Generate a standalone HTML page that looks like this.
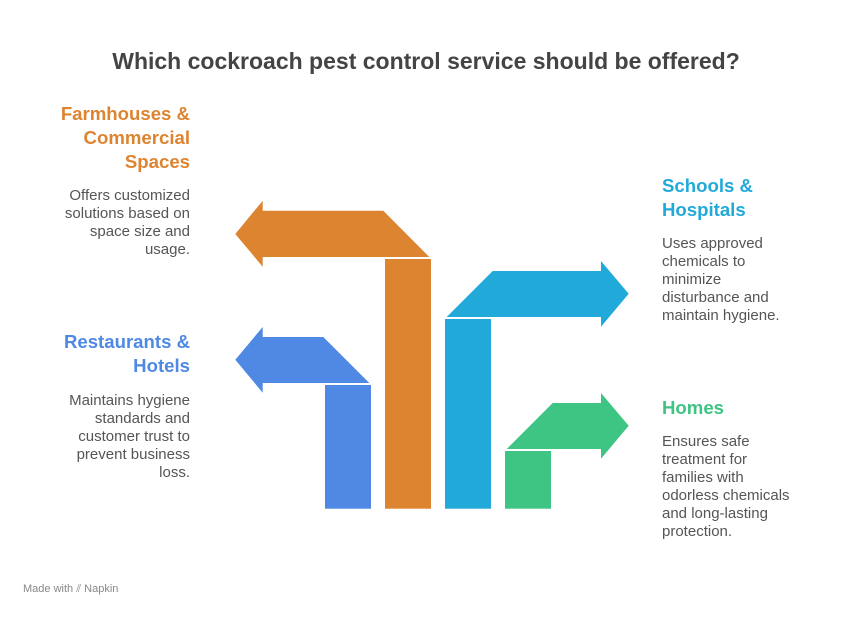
<!DOCTYPE html>
<html><head><meta charset="utf-8"><style>
body{margin:0;width:852px;height:618px;background:#fff;font-family:"Liberation Sans",sans-serif;position:relative;overflow:hidden}
.t{position:absolute;left:0;width:852px;text-align:center;top:48px;font-size:23px;font-weight:bold;color:#444}
.h{position:absolute;font-size:18.6px;font-weight:bold;line-height:24px}
.b{position:absolute;font-size:15px;line-height:18px;color:#555}
.r{text-align:right}
svg{position:absolute;left:0;top:0}
</style></head><body>
<svg width="852" height="618">
<polygon fill="#DD8430" points="235.3,234 262.7,200.7 262.7,210.7 383.3,210.7 429.3,257 262.7,257 262.7,266.7"/>
<rect fill="#DD8430" x="385" y="259" width="46" height="249.7"/>
<polygon fill="#4F89E4" points="235.3,359.7 262.7,327 262.7,337 323.3,337 369.3,383 262.7,383 262.7,392.7"/>
<rect fill="#4F89E4" x="325" y="385" width="46" height="123.7"/>
<polygon fill="#21AAD9" points="446.7,317 492.7,271 601,271 601,261 628.7,293.7 601,326.7 601,317"/>
<rect fill="#21AAD9" x="445" y="319" width="46" height="189.7"/>
<polygon fill="#3EC483" points="506.7,449 552.7,403 601,403 601,393 628.7,425.7 601,458.7 601,449"/>
<rect fill="#3EC483" x="505" y="451" width="46" height="57.7"/>
</svg>
<div class="t">Which cockroach pest control service should be offered?</div>
<div class="h r" style="right:662px;top:102px;color:#DD8430">Farmhouses &amp;<br>Commercial<br>Spaces</div>
<div class="b r" style="right:662px;top:187px">Offers customized<br>solutions based on<br>space size and<br>usage.</div>
<div class="h r" style="right:662px;top:330px;color:#4F89E4">Restaurants &amp;<br>Hotels</div>
<div class="b r" style="right:662px;top:392px">Maintains hygiene<br>standards and<br>customer trust to<br>prevent business<br>loss.</div>
<div class="h" style="left:662px;top:174px;color:#21AAD9">Schools &amp;<br>Hospitals</div>
<div class="b" style="left:662px;top:235px">Uses approved<br>chemicals to<br>minimize<br>disturbance and<br>maintain hygiene.</div>
<div class="h" style="left:662px;top:396px;color:#3EC483">Homes</div>
<div class="b" style="left:662px;top:433px">Ensures safe<br>treatment for<br>families with<br>odorless chemicals<br>and long-lasting<br>protection.</div>
<div style="position:absolute;left:23px;top:583px;font-size:11px;color:#888">Made with ⫽ Napkin</div>
</body></html>
